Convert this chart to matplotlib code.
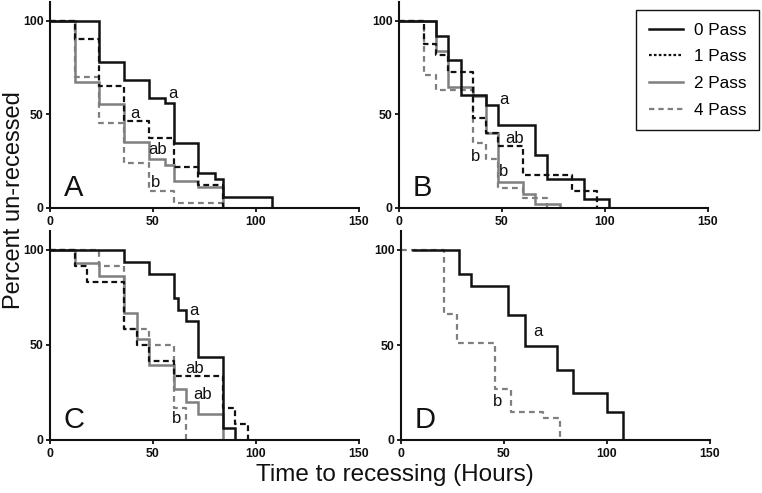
import matplotlib
matplotlib.use("Agg")
import matplotlib.pyplot as plt
from matplotlib.lines import Line2D

plt.rcParams['font.family'] = ['Liberation Sans', 'DejaVu Sans']

# ---- data (hours, percent un-recessed) ----
A0_t = [0, 24, 36, 48, 56, 60, 72, 80, 84, 108]
A0_s = [100, 77.8, 68.5, 59, 56, 34.5, 18.7, 15.5, 5.9, 0]
A1_t = [0, 12, 24, 36, 48, 60, 72, 84]
A1_s = [100, 90.2, 65.3, 46.6, 37.2, 21.7, 12.3, 0]
A2_t = [0, 12, 24, 36, 48, 56, 60, 72, 84]
A2_s = [100, 67.1, 55.5, 35, 26.2, 23, 14.6, 11, 0]
A4_t = [0, 12, 24, 36, 48, 60, 84]
A4_s = [100, 69.8, 45.4, 24, 8.9, 2.7, 0]

B0_t = [0, 18, 24, 30, 42, 48, 66, 72, 90, 102]
B0_s = [100, 92, 79, 60.3, 55, 44.5, 28.5, 15.5, 4.8, 0]
B1_t = [0, 12, 18, 24, 36, 42, 48, 60, 84, 96]
B1_s = [100, 87.5, 81.7, 72.4, 48, 39.9, 32.9, 17.6, 9.3, 0]
B2_t = [0, 18, 24, 36, 42, 48, 60, 66, 78]
B2_s = [100, 84, 64.4, 60, 40, 13.7, 7.5, 2.1, 0]
B4_t = [0, 12, 18, 36, 42, 48, 60, 72]
B4_s = [100, 71.2, 63, 34.5, 26.2, 10.5, 5.2, 0]

C0_t = [0, 36, 48, 60, 62, 66, 72, 84, 90]
C0_s = [100, 93.4, 87.2, 74.7, 68.5, 62.3, 43.4, 6.2, 0]
C1_t = [0, 12, 18, 36, 42, 48, 60, 84, 90, 96]
C1_s = [100, 91.5, 83.1, 58.5, 49.8, 41.3, 33.3, 16.4, 8.4, 0]
C2_t = [0, 12, 24, 36, 42, 48, 60, 66, 72, 84]
C2_s = [100, 93.2, 86.3, 66.5, 53.2, 39.5, 26.5, 19.9, 13.2, 0]
C4_t = [0, 24, 36, 48, 60, 66]
C4_s = [100, 91.5, 58.2, 49.8, 16.7, 0]

D0_t = [6, 28, 34, 52, 60, 75.5, 83.5, 100, 108]
D0_s = [100, 87.3, 81.1, 65.6, 49.4, 37, 24.7, 15, 0]
D4_t = [0, 21, 27, 45.5, 53.5, 69, 77]
D4_s = [100, 66.5, 51.1, 27, 14.6, 11.8, 0]

series_labels = ['0 Pass', '1 Pass', '2 Pass', '4 Pass']
panel_letters = ['A', 'B', 'C', 'D']
x_ticks = [0, 50, 100, 150]
y_ticks = [0, 50, 100]

# significance letters: (text, hour, percent)
A_sig = [('a', 59.7, 61), ('a', 41, 50.7), ('ab', 52.4, 31), ('b', 51.3, 13.7)]
B_sig = [('a', 50.8, 58.2), ('ab', 56.1, 37.2), ('b', 37.4, 27.6), ('b', 50.8, 19.6)]
C_sig = [('a', 69.7, 68.3), ('ab', 70.2, 37.7), ('ab', 74.2, 23.8), ('b', 61.6, 11)]
D_sig = [('a', 66.5, 57.3), ('b', 46.8, 20.3)]

BLACK = '#111111'
GREY = '#7f7f7f'
styles = {
    0: dict(color=BLACK, lw=1.8, ls='-'),
    1: dict(color=BLACK, lw=1.6, dashes=(2.6, 1.6)),
    2: dict(color=GREY, lw=1.8, ls='-'),
    4: dict(color=GREY, lw=1.6, dashes=(2.6, 1.9)),
}

W, H = 762, 493
fig = plt.figure(figsize=(W / 100, H / 100), dpi=100)

def rect(left, top, right, bottom):
    return [left / W, 1 - bottom / H, (right - left) / W, (bottom - top) / H]

panels = [
    (rect(50, 2, 359, 208), {4: (A4_t, A4_s), 2: (A2_t, A2_s), 1: (A1_t, A1_s), 0: (A0_t, A0_s)}, A_sig),
    (rect(399, 2, 708, 208), {4: (B4_t, B4_s), 2: (B2_t, B2_s), 1: (B1_t, B1_s), 0: (B0_t, B0_s)}, B_sig),
    (rect(50, 231, 359, 439.5), {4: (C4_t, C4_s), 2: (C2_t, C2_s), 1: (C1_t, C1_s), 0: (C0_t, C0_s)}, C_sig),
    (rect(401, 231, 710, 440), {4: (D4_t, D4_s), 0: (D0_t, D0_s)}, D_sig),
]

for (r, data, sig), letter in zip(panels, panel_letters):
    ax = fig.add_axes(r)
    for key, (t, s) in data.items():
        ax.step(t, s, where='post', solid_joinstyle='miter', **styles[key])
    ax.set_xlim(0, 150)
    ax.set_ylim(0, 110)
    ax.set_xticks(x_ticks)
    ax.set_yticks(y_ticks)
    for side in ('top', 'right'):
        ax.spines[side].set_visible(False)
    for side in ('left', 'bottom'):
        ax.spines[side].set_linewidth(1.5)
        ax.spines[side].set_color(BLACK)
    ax.tick_params(direction='out', length=3, width=1.3, labelsize=8.8, colors=BLACK)
    ax.tick_params(axis='x', pad=3)
    ax.tick_params(axis='y', pad=1.5)
    for lab in ax.get_xticklabels() + ax.get_yticklabels():
        lab.set_fontweight('bold')
    for txt, x, y in sig:
        ax.text(x, y, txt, ha='center', va='center', fontsize=12, color=BLACK)
    ax.text(11.5, 10.5, letter, ha='center', va='center', fontsize=21, color=BLACK)

handles = [
    Line2D([], [], color=BLACK, lw=1.8),
    Line2D([], [], color=BLACK, lw=1.6, dashes=(1.2, 1.0)),
    Line2D([], [], color=GREY, lw=1.8),
    Line2D([], [], color=GREY, lw=1.6, dashes=(2.4, 1.8)),
]
leg = fig.legend(handles, series_labels, loc='upper right',
                 bbox_to_anchor=(759 / W, 1 - 10 / H), borderaxespad=0,
                 fontsize=12.3, fancybox=False, framealpha=1, edgecolor=BLACK,
                 handlelength=2.0, handletextpad=0.6, labelspacing=0.68,
                 borderpad=0.75)
leg.get_frame().set_linewidth(1.0)

fig.text(14 / W, 1 - 200 / H, 'Percent un-recessed', rotation=90,
         ha='center', va='center', fontsize=17, color=BLACK)
fig.text(395 / W, 1 - 475 / H, 'Time to recessing (Hours)',
         ha='center', va='center', fontsize=17.5, color=BLACK)

fig.savefig('out.png', dpi=100)
